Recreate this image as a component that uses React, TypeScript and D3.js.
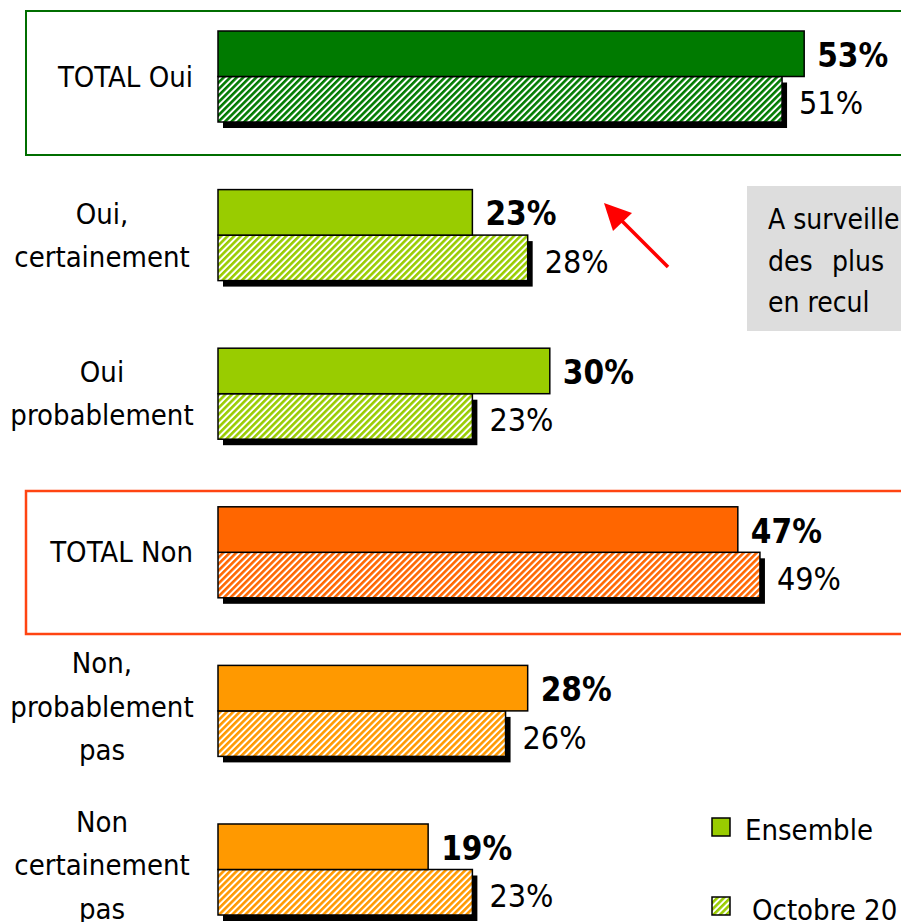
import React from "react";
import * as d3 from "d3";

const categories = ["TOTAL Oui", "Oui, certainement", "Oui probablement", "TOTAL Non", "Non, probablement pas", "Non certainement pas"];
const labelLines = [["TOTAL Oui"], ["Oui,", "certainement"], ["Oui", "probablement"], ["TOTAL Non"], ["Non,", "probablement", "pas"], ["Non", "certainement", "pas"]];
const ensemble = [53, 23, 30, 47, 28, 19];
const octobre = [51, 28, 23, 49, 26, 23];
const colors = ["#007A00", "#99CC00", "#99CC00", "#FF6600", "#FF9900", "#FF9900"];
const seriesNames = ["Ensemble", "Octobre 20"];
const noteLines = ["A surveiller", "des", "plus", "en recul"];

const W = 901;
const H = 922;
const FONT = "'DejaVu Sans Condensed', 'DejaVu Sans', sans-serif";

export default function App() {
  const x = d3.scaleLinear().domain([0, 100]).range([218, 218 + 1106]);
  const y = d3.scaleBand<string>().domain(categories).range([31, 915]).paddingInner(0.4262).paddingOuter(0).align(0);
  const bw = y.bandwidth();
  const half = bw / 2;
  const uniq = Array.from(new Set(colors));

  return (
    <svg width={W} height={H} style={{ position: "absolute", left: 0, top: 0, background: "#fff" }} fontFamily={FONT}>
      <defs>
        {uniq.map((c, i) => (
          <pattern key={c} id={`hatch${i}`} patternUnits="userSpaceOnUse" width={4.6} height={4.6} patternTransform="rotate(45)">
            <rect width={4.6} height={4.6} fill="#fff" />
            <rect width={2.6} height={4.6} fill={c} />
          </pattern>
        ))}
      </defs>

      {/* group boxes */}
      <rect x={26} y={11} width={900} height={144} fill="none" stroke="#006E00" strokeWidth={2} />
      <rect x={26} y={491} width={900} height={143} fill="none" stroke="#FF4411" strokeWidth={2.5} />

      {/* note box */}
      <rect x={747} y={186} width={200} height={145} fill="#DDDDDD" />
      <text x={768} y={229} fontSize={28} fill="#000">{noteLines[0]}</text>
      <text x={768} y={271} fontSize={28} fill="#000">{noteLines[1]}</text>
      <text x={832} y={271} fontSize={28} fill="#000">{noteLines[2]}</text>
      <text x={768} y={312} fontSize={28} fill="#000">{noteLines[3]}</text>

      {/* arrow */}
      <line x1={668} y1={267} x2={615} y2={214} stroke="#FF0000" strokeWidth={3.5} />
      <polygon points="604,203 632,213 613,231" fill="#FF0000" />

      {categories.map((cat, i) => {
        const y0 = y(cat)!;
        const cy = y0 + bw / 2;
        const lines = labelLines[i];
        const hatchId = `hatch${uniq.indexOf(colors[i])}`;
        const xe = x(ensemble[i]);
        const xo = x(octobre[i]);
        return (
          <g key={cat}>
            {lines.length === 1 ? (
              <text x={193} y={cy + 10} fontSize={29} textAnchor="end">{lines[0]}</text>
            ) : (
              lines.map((l, j) => {
                const lc = lines.length === 2 ? cy + (j - 0.5) * 43 : cy - 4 + (j - 1) * 43.5;
                return (
                  <text key={j} x={102} y={lc + 10} fontSize={29} textAnchor="middle">{l}</text>
                );
              })
            )}
            <rect x={x(0) + 5} y={y0 + half + 6} width={xo - x(0)} height={half} fill="#000" />
            <rect x={x(0)} y={y0 + half} width={xo - x(0)} height={half} fill={`url(#${hatchId})`} stroke="#000" strokeWidth={1.5} />
            <rect x={x(0)} y={y0} width={xe - x(0)} height={half} fill={colors[i]} stroke="#000" strokeWidth={1.5} />
            <text x={xe + 13} y={y0 + half / 2 + 13} fontSize={33} fontWeight="bold">{ensemble[i]}%</text>
            <text x={xo + 17} y={y0 + half * 1.5 + 15} fontSize={32}>{octobre[i]}%</text>
          </g>
        );
      })}

      {/* legend */}
      <rect x={712} y={818} width={18} height={18} fill="#99CC00" stroke="#000" strokeWidth={1.5} />
      <text x={745} y={840} fontSize={29}>{seriesNames[0]}</text>
      <rect x={712} y={897} width={18} height={18} fill="url(#hatch1)" stroke="#000" strokeWidth={1.5} />
      <text x={752} y={920} fontSize={29}>{seriesNames[1]}</text>
    </svg>
  );
}
